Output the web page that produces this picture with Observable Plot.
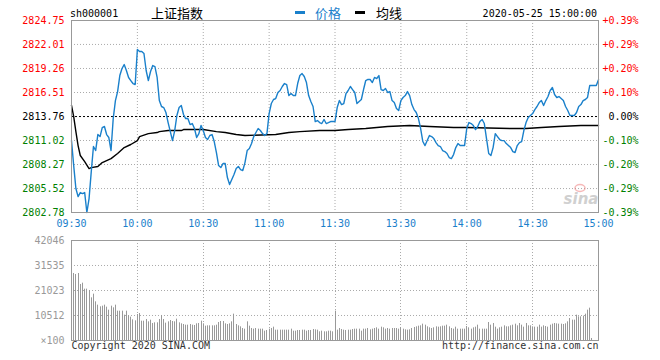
<!DOCTYPE html>
<html><head><meta charset="utf-8">
<script src="https://cdn.jsdelivr.net/npm/d3@7"></script>
<script src="https://cdn.jsdelivr.net/npm/@observablehq/plot@0.6"></script>
<style>
body{margin:0;background:#fff;}
#wrap{position:relative;width:660px;height:360px;overflow:hidden;background:#fff;}
#wrap svg{position:absolute;left:0;}
</style></head><body><div id="wrap"></div>
<script>
const symbol = "sh000001";
const title = "上证指数";
const legendNames = ["价格", "均线"];
const stamp = "2020-05-25 15:00:00";
const prevClose = 2813.76;
const priceTicks = [2824.75, 2822.01, 2819.26, 2816.51, 2813.76, 2811.02, 2808.27, 2805.52, 2802.78];
const pctLabels = ["+0.39%", "+0.29%", "+0.20%", "+0.10%", "0.00%", "-0.10%", "-0.20%", "-0.29%", "-0.39%"];
const timeTicks = [0, 30, 60, 90, 120, 150, 180, 210, 240];
const timeLabels = ["09:30", "10:00", "10:30", "11:00", "11:30", "13:30", "14:00", "14:30", "15:00"];
const volTicks = [42046, 31535, 21023, 10512, 0];
const volLabels = ["42046", "31535", "21023", "10512", "×100"];
const copyright = "Copyright 2020 SINA.COM";
const site = "http://finance.sina.com.cn";

// price per minute (index 0 = 09:30, 120 = 11:30/13:00, 240 = 15:00)
const price = [
2811.01,2808.15,2805.52,2804.60,2805.06,2804.95,2805.06,2802.78,2804.37,2807.46,
2810.33,2809.87,2811.70,2811.47,2812.50,2812.62,2811.70,2811.36,2809.87,2813.53,
2815.59,2816.62,2818.45,2819.26,2819.71,2819.03,2818.23,2817.88,2817.54,2817.42,
2821.43,2821.20,2821.20,2820.97,2819.03,2817.88,2818.91,2819.60,2819.48,2818.23,
2815.59,2814.91,2814.79,2814.22,2813.07,2812.04,2811.01,2812.16,2813.88,2814.79,
2815.02,2813.99,2813.53,2813.53,2812.84,2812.96,2812.39,2811.36,2811.81,2812.73,
2812.16,
2811.36,2811.13,2811.59,2811.70,2810.90,2809.64,2808.15,2807.92,2808.38,2808.38,
2806.78,2805.98,2806.55,2807.12,2807.81,2808.04,2807.69,2807.58,2808.49,2809.87,
2810.10,2810.67,2811.47,2811.93,2812.39,2812.16,2811.81,2811.59,2811.81,2814.10,
2815.25,2815.71,2815.82,2816.51,2816.74,2817.20,2817.54,2817.42,2816.16,2816.39,
2816.16,2816.16,2817.54,2818.45,2818.68,2818.34,2817.65,2816.16,2815.48,2814.91,
2813.19,2813.30,2813.07,2812.96,2813.42,2812.96,2813.07,2813.19,2813.19,2813.19,
2814.79,2815.59,2815.13,2815.25,2816.39,2816.74,2817.20,2816.85,2816.51,2815.25,
2815.48,2815.71,2816.85,2817.88,2818.00,2818.00,2817.65,2818.23,2818.11,2818.45,
2816.85,2816.74,2816.97,2816.51,2816.62,2815.59,2815.36,2814.68,2814.45,2815.59,
2815.94,2816.16,2816.62,2816.16,2815.13,2814.56,2814.22,2813.53,2812.39,2810.90,
2810.44,2811.01,2811.59,2811.47,2811.24,2810.78,2810.44,2810.33,2809.87,2809.75,
2809.53,2809.07,2808.95,2809.41,2810.21,2810.67,2810.44,2810.44,2810.44,2812.39,
2813.07,2812.96,2812.73,2812.27,2812.62,2813.19,2813.42,2812.96,2811.24,2809.53,
2809.30,2810.21,2811.81,2811.47,2811.13,2811.01,2811.01,2810.67,2810.44,2810.21,
2809.75,2809.64,2810.44,2810.78,2810.90,2812.16,2813.07,2813.65,2813.88,2814.10,
2814.56,2814.91,2815.36,2815.59,2815.02,2815.59,2816.05,2816.74,2817.08,2816.28,
2815.94,2816.05,2815.82,2815.59,2814.91,2814.45,2813.88,2813.88,2813.88,2814.22,
2814.91,2815.13,2815.59,2815.71,2815.94,2817.31,2817.31,2817.31,2817.31,2817.98
];

const avgMinute = [0,1,2,3,4,6,8,9,12,14,16,18,21,24,27,30,31,35,39,40,44,50,51,60,66,70,75,79,93,99,104,113,120,126,134,139,144,154,163,174,180,200,207,214,222,232,240];
const avgPrice = [2815.05,2813.76,2812.04,2810.44,2809.30,2808.61,2807.81,2807.92,2808.04,2808.49,
2808.72,2808.95,2809.53,2810.21,2810.56,2811.01,2811.47,2811.81,2811.93,2812.04,
2812.16,2812.16,2812.27,2812.27,2812.04,2811.93,2811.70,2811.59,2811.70,2811.93,
2812.04,2812.16,2812.16,2812.27,2812.39,2812.50,2812.62,2812.73,2812.62,2812.50,
2812.50,2812.39,2812.39,2812.50,2812.62,2812.73,2812.73];

// volume per minute, in hundreds of shares
const volume = [
42046,28171,27750,28171,23546,24106,21583,21583,21023,17940,19481,
16258,14856,14155,14436,14856,14015,12754,14436,13735,14856,
12333,12333,12333,10650,12333,10371,9811,8690,8269,10932,
11352,8129,8129,8830,7848,8549,7148,7428,7428,8830,
10512,8830,7288,7848,8409,7989,7848,8970,7428,7008,
6727,6447,6447,6727,6447,6307,7008,7148,8129,7008,
6027,6167,6167,6167,6167,6447,7568,7989,7989,7008,
6727,7008,7848,11072,6727,6167,5746,5046,4765,7848,
6027,5046,4765,5046,4765,4765,4765,3924,4205,4765,
5046,5606,4345,4345,4345,4345,4345,4345,4345,4765,
3924,3924,4205,4205,4345,4345,3924,4205,4205,4625,
4485,4345,3644,3924,3644,3644,3924,3924,3644,12333,
4345,5046,4625,4345,4205,4345,4345,4625,4765,4765,
4765,3924,4765,4765,5046,4485,4765,5046,5326,4765,
5606,5326,4765,5046,4765,5046,5046,5046,4765,5326,
4765,4485,4345,4485,5046,5466,5746,6027,6167,6868,
6447,5746,5326,5046,5326,5746,5606,5746,6027,6027,
6447,5746,5046,4765,5606,4765,4765,4765,4765,5886,
5326,4765,5326,5606,6447,4765,4765,4765,4765,7568,
6447,7148,5606,4765,5326,5606,6167,5746,5746,6167,
6447,6868,6167,7148,6447,5606,7148,6167,6167,5746,
5606,5606,6447,5606,6167,5886,5606,6447,6868,7148,
7008,6868,6868,6727,7008,7848,9250,8549,8549,10650,
9951,9951,10231,11072,12754,13595,841,0,0,9000
];

const BLUE = "#1a80cb";
const RED = "#ff0000";
const GREEN = "#008000";
const GRID = "#aaaaaa";
const mono = "'DejaVu Sans Mono', monospace";
const cjk = "'Noto Sans CJK SC', sans-serif";

const priceData = price.map((p, i) => ({m: i, p}));
const avgData = avgMinute.map((m, i) => ({m, p: avgPrice[i]}));
const tickData = priceTicks.map((v, i) => ({
  v, pct: pctLabels[i],
  c: Math.abs(v - prevClose) < 0.005 ? "#000000" : (v > prevClose ? RED : GREEN)
}));
const timeData = timeTicks.map((m, i) => ({m, t: timeLabels[i]}));
const volData = volume.map((v, i) => ({m: i, v}));
const volTickData = volTicks.map((v, i) => ({v, t: volLabels[i]}));

const main = Plot.plot({
  width: 660, height: 232,
  marginLeft: 71, marginRight: 62, marginTop: 20, marginBottom: 20,
  style: {fontFamily: mono, fontSize: "10px", background: "transparent", overflow: "visible"},
  x: {domain: [0, 240], axis: null},
  y: {domain: [2802.78, 2824.75], axis: null},
  marks: [
    Plot.ruleY(priceTicks.slice(1, -1).filter(v => Math.abs(v - prevClose) > 0.005), {stroke: GRID, strokeDasharray: "1,2"}),
    Plot.ruleX(timeTicks.slice(1, -1), {stroke: GRID, strokeDasharray: "1,2"}),
    Plot.ruleY([prevClose], {stroke: "#000", strokeDasharray: "2,2"}),
    Plot.line(avgData, {x: "m", y: "p", stroke: "#000", strokeWidth: 1.4}),
    Plot.line(priceData, {x: "m", y: "p", stroke: BLUE, strokeWidth: 1.4}),
    Plot.frame({stroke: "#999"}),
    Plot.text(tickData, {y: "v", text: d => d.v.toFixed(2), frameAnchor: "left", dx: -7, textAnchor: "end", lineAnchor: "middle", fill: "c"}),
    Plot.text(tickData, {y: "v", text: "pct", frameAnchor: "right", dx: 40, textAnchor: "end", lineAnchor: "middle", fill: "c"}),
    Plot.text(timeData, {x: "m", text: "t", frameAnchor: "bottom", dy: 11.5, lineAnchor: "middle", textAnchor: "middle", fill: BLUE})
  ]
});
main.style.top = "0px";

const vol = Plot.plot({
  width: 660, height: 128,
  marginLeft: 71, marginRight: 62, marginTop: 8, marginBottom: 20,
  style: {fontFamily: mono, fontSize: "10px", background: "transparent", overflow: "visible"},
  x: {domain: [0, 240], axis: null, round: true},
  y: {domain: [0, 42046], axis: null},
  marks: [
    Plot.ruleY(volTicks.slice(1, -1), {stroke: GRID, strokeDasharray: "1,2"}),
    Plot.ruleX(timeTicks.slice(1, -1), {stroke: GRID, strokeDasharray: "1,2"}),
    Plot.ruleX(volData, {x: "m", y1: 0, y2: "v", stroke: "#999"}),
    Plot.frame({stroke: "#999"}),
    Plot.text(volTickData, {y: "v", text: "t", frameAnchor: "left", dx: -7, textAnchor: "end", lineAnchor: "middle", fill: "#999"}),
    Plot.text([copyright], {frameAnchor: "bottom-left", dy: 1, textAnchor: "start", lineAnchor: "top", fill: "#333"}),
    Plot.text([site], {frameAnchor: "bottom-right", dy: 1, textAnchor: "end", lineAnchor: "top", fill: "#333"})
  ]
});
vol.style.top = "232px";

const wrap = document.getElementById("wrap");
wrap.appendChild(main);
wrap.appendChild(vol);

// header and legend
const svg = d3.select(main);
const hdr = svg.append("g").attr("text-anchor", "start");
hdr.append("text").attr("x", 70).attr("y", 16.5).attr("text-anchor", "start").attr("font-family", mono).attr("font-size", 10).attr("fill", "#000").text(symbol);
hdr.append("text").attr("x", 151).attr("y", 17.5).attr("text-anchor", "start").attr("font-family", cjk).attr("font-size", 13).attr("fill", "#000").text(title);
hdr.append("rect").attr("x", 295).attr("y", 11).attr("width", 10).attr("height", 3).attr("fill", BLUE);
hdr.append("text").attr("x", 315).attr("y", 17.5).attr("text-anchor", "start").attr("font-family", cjk).attr("font-size", 13).attr("fill", BLUE).text(legendNames[0]);
hdr.append("rect").attr("x", 355).attr("y", 11).attr("width", 10).attr("height", 3).attr("fill", "#000");
hdr.append("text").attr("x", 376).attr("y", 17.5).attr("text-anchor", "start").attr("font-family", cjk).attr("font-size", 13).attr("fill", "#000").text(legendNames[1]);
hdr.append("text").attr("x", 597).attr("y", 16.5).attr("text-anchor", "end").attr("font-family", mono).attr("font-size", 10).attr("fill", "#000").text(stamp);

// sina watermark
const wm = svg.append("g").attr("opacity", 0.55);
wm.append("ellipse").attr("cx", 580).attr("cy", 188).attr("rx", 5).attr("ry", 3.5).attr("fill", "none").attr("stroke", "#f08080").attr("stroke-width", 1.5);
wm.append("text").attr("x", 581).attr("y", 204).attr("text-anchor", "middle").attr("font-family", "'DejaVu Sans', sans-serif").attr("font-size", 15).attr("font-style", "italic").attr("font-weight", "bold").attr("fill", "#aaa").text("sina");
</script></body></html>
